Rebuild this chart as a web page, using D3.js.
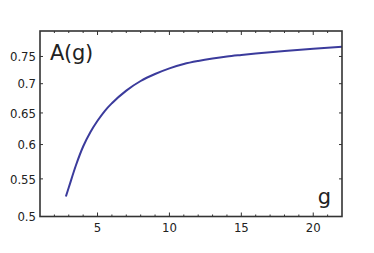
<!DOCTYPE html>
<html><head><meta charset="utf-8">
<script src="https://cdn.jsdelivr.net/npm/d3@7"></script>
<style>body{margin:0;background:#fff;} svg{display:block;}</style>
</head><body>
<script>
const gValues = [2.8, 3, 3.5, 4, 4.5, 5, 5.5, 6, 7, 8, 9, 10, 11, 12, 13, 14, 15, 16, 18, 20, 22];
const aValues = [0.5260, 0.5381, 0.5693, 0.5970, 0.6190, 0.6372, 0.6532, 0.6662, 0.6879, 0.7048, 0.7174, 0.7278, 0.7358, 0.7415, 0.7461, 0.7499, 0.7528, 0.7555, 0.7604, 0.7647, 0.7686];
const xTicks = [5, 10, 15, 20];
const yTicks = [0.5, 0.55, 0.6, 0.65, 0.7, 0.75];
const yTickLabels = ["0.5", "0.55", "0.6", "0.65", "0.7", "0.75"];

const W = 374, H = 253;
const L = 40, R = 342, T = 31, B = 216.5;
const svg = d3.select("body").append("svg").attr("width", W).attr("height", H);
const x = d3.scaleLinear().domain([1, 22]).range([L, R]);
const y = d3.scaleLog().domain([0.5, 0.8]).range([B, T]);
const frameCol = "#333";
const font = "'DejaVu Sans Condensed','DejaVu Sans',sans-serif";

const minorX = d3.range(2, 22);
minorX.forEach(v => {
  const major = xTicks.includes(v);
  const len = major ? 4 : 2;
  svg.append("line").attr("x1", x(v)).attr("x2", x(v)).attr("y1", B).attr("y2", B - len)
    .attr("stroke", frameCol).attr("stroke-width", 1);
  svg.append("line").attr("x1", x(v)).attr("x2", x(v)).attr("y1", T).attr("y2", T + len)
    .attr("stroke", frameCol).attr("stroke-width", 1);
});
yTicks.forEach(v => {
  svg.append("line").attr("x1", L).attr("x2", L + 3).attr("y1", y(v)).attr("y2", y(v))
    .attr("stroke", frameCol).attr("stroke-width", 1);
  svg.append("line").attr("x1", R).attr("x2", R - 3).attr("y1", y(v)).attr("y2", y(v))
    .attr("stroke", frameCol).attr("stroke-width", 1);
});

const data = gValues.map((g, i) => [g, aValues[i]]);
svg.append("path").datum(data)
  .attr("d", d3.line().x(d => x(d[0])).y(d => y(d[1])).curve(d3.curveMonotoneX))
  .attr("fill", "none").attr("stroke", "#3b3b9c").attr("stroke-width", 2);

svg.append("rect").attr("x", L).attr("y", T).attr("width", R - L).attr("height", B - T)
  .attr("fill", "none").attr("stroke", frameCol).attr("stroke-width", 1.6);

svg.selectAll(".xl").data(xTicks).enter().append("text")
  .attr("x", d => x(d)).attr("y", 232).attr("text-anchor", "middle")
  .attr("font-family", font).attr("font-size", 13).attr("fill", "#222").text(d => d);
svg.selectAll(".yl").data(yTicks).enter().append("text")
  .attr("x", 36).attr("y", d => y(d)).attr("dy", "0.36em").attr("text-anchor", "end")
  .attr("font-family", font).attr("font-size", 13).attr("fill", "#222").text((d, i) => yTickLabels[i]);

svg.append("text").attr("x", 50).attr("y", 60).attr("font-family", "'DejaVu Sans',sans-serif")
  .attr("font-size", 21).attr("letter-spacing", -0.3).attr("fill", "#222").text("A(g)");
svg.append("text").attr("x", 331).attr("y", 204).attr("text-anchor", "end").attr("font-family", "'DejaVu Sans',sans-serif")
  .attr("font-size", 21).attr("fill", "#222").text("g");
</script>
</body></html>
